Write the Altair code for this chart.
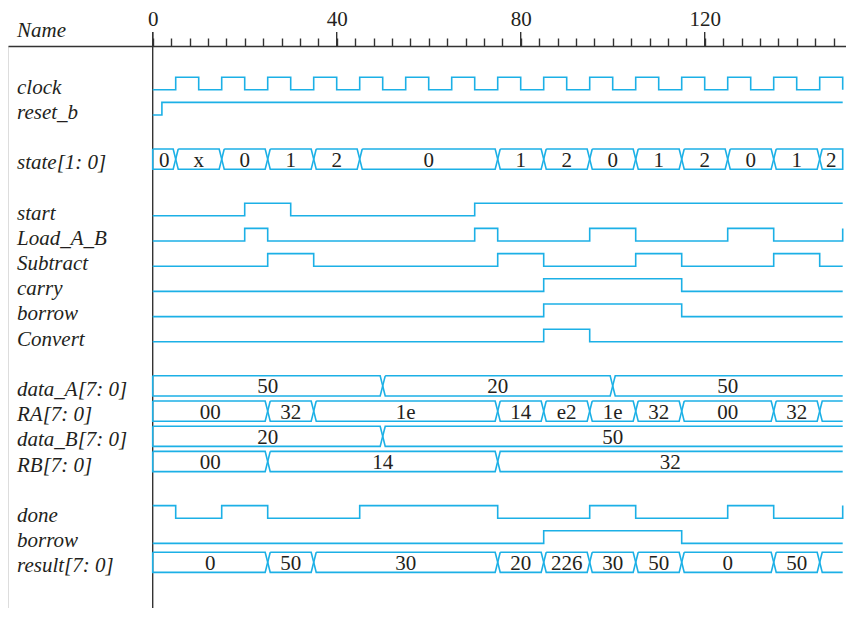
import altair as alt
import pandas as pd

# ---------------- data ----------------
T_END = 150
AXIS_TICKS = [0, 4, 8, 12, 16, 20, 24, 28, 32, 36, 40, 44, 48, 52, 56, 60, 64, 68, 72, 76,
              80, 84, 88, 92, 96, 100, 104, 108, 112, 116, 120, 124, 128, 132, 136, 140, 144, 148]
MAJOR_TICKS = [0, 40, 80, 120]
HEADER = ["Name"]

CLOCK_TOGGLES = [5, 10, 15, 20, 25, 30, 35, 40, 45, 50, 55, 60, 65, 70, 75, 80, 85, 90, 95, 100,
                 105, 110, 115, 120, 125, 130, 135, 140, 145, 150]
RESET_TOGGLES = [2]
START_TOGGLES = [20, 30, 70]
LOAD_TOGGLES = [20, 25, 70, 75, 95, 105, 125, 135, 150]
SUBTRACT_TOGGLES = [25, 35, 75, 85, 105, 115, 135, 145]
CARRY_TOGGLES = [85, 115]
BORROW_TOGGLES = [85, 115]
CONVERT_TOGGLES = [85, 95]
DONE_TOGGLES = [5, 15, 25, 45, 75, 95, 105, 125, 135, 150]
BORROW2_TOGGLES = [85, 115]

STATE_BOUNDS = [0, 5, 15, 25, 35, 45, 75, 85, 95, 105, 115, 125, 135, 145, 150]
STATE_VALUES = ["0", "x", "0", "1", "2", "0", "1", "2", "0", "1", "2", "0", "1", "2"]
DATA_A_BOUNDS = [0, 50, 100, 150]
DATA_A_VALUES = ["50", "20", "50"]
RA_BOUNDS = [0, 25, 35, 75, 85, 95, 105, 115, 135, 145, 150]
RA_VALUES = ["00", "32", "1e", "14", "e2", "1e", "32", "00", "32", ""]
DATA_B_BOUNDS = [0, 50, 150]
DATA_B_VALUES = ["20", "50"]
RB_BOUNDS = [0, 25, 75, 150]
RB_VALUES = ["00", "14", "32"]
RESULT_BOUNDS = [0, 25, 35, 75, 85, 95, 105, 115, 135, 145, 150]
RESULT_VALUES = ["0", "50", "30", "20", "226", "30", "50", "0", "50", ""]

# (key, label, row slot, initial level, toggle times)
DIGITAL = [
    ("clock", "clock", 0, 0, CLOCK_TOGGLES),
    ("reset_b", "reset_b", 1, 0, RESET_TOGGLES),
    ("start", "start", 5, 0, START_TOGGLES),
    ("load", "Load_A_B", 6, 0, LOAD_TOGGLES),
    ("subtract", "Subtract", 7, 0, SUBTRACT_TOGGLES),
    ("carry", "carry", 8, 0, CARRY_TOGGLES),
    ("borrow", "borrow", 9, 0, BORROW_TOGGLES),
    ("convert", "Convert", 10, 0, CONVERT_TOGGLES),
    ("done", "done", 17, 1, DONE_TOGGLES),
    ("borrow2", "borrow", 18, 0, BORROW2_TOGGLES),
]
# (key, label, row slot, boundaries, values)
BUSES = [
    ("state", "state[1: 0]", 3, STATE_BOUNDS, STATE_VALUES),
    ("data_A", "data_A[7: 0]", 12, DATA_A_BOUNDS, DATA_A_VALUES),
    ("RA", "RA[7: 0]", 13, RA_BOUNDS, RA_VALUES),
    ("data_B", "data_B[7: 0]", 14, DATA_B_BOUNDS, DATA_B_VALUES),
    ("RB", "RB[7: 0]", 15, RB_BOUNDS, RB_VALUES),
    ("result", "result[7: 0]", 19, RESULT_BOUNDS, RESULT_VALUES),
]
CLOSED_END = {"state"}

# ---------------- styling ----------------
CYAN = "#1cb0e6"
BLACK = "#333333"
TEXT = "#231f20"
SERIF = "Liberation Serif"
LEVEL = 0.25     # half swing of a digital trace, in rows
BUS_H = 0.4      # half height of a bus, in rows
DELTA = 0.55     # half width of a bus transition, in time units

W, H = 838, 562
PAD_TOP = 38

# ---------------- build tables ----------------
dig_rows = []
for key, label, slot, init, toggles in DIGITAL:
    lvl = init
    pts = [(0, lvl)]
    for t in toggles:
        lvl = 1 - lvl
        pts.append((t, lvl))
    if pts[-1][0] < T_END:
        pts.append((T_END, lvl))
    for i, (t, l) in enumerate(pts):
        dig_rows.append({"sig": key, "i": i, "t": t,
                         "y": slot + (LEVEL if l == 0 else -LEVEL)})
dig_df = pd.DataFrame(dig_rows)

bus_rows = []
val_rows = []
for key, label, slot, bounds, values in BUSES:
    n = len(values)
    for k in range(n):
        a, b = bounds[k], bounds[k + 1]
        da = 0 if a == 0 else DELTA
        top, bot = slot - BUS_H, slot + BUS_H
        if k == n - 1 and key not in CLOSED_END:
            pts = [(b, top), (a + da, top), (a, slot), (a + da, bot), (b, bot)]
        else:
            db = DELTA if b < T_END else 0
            pts = [(a + da, top), (b - db, top), (b, slot), (b - db, bot),
                   (a + da, bot), (a, slot), (a + da, top)]
        seg = f"{key}_{k}"
        for i, (t, y) in enumerate(pts):
            bus_rows.append({"seg": seg, "i": i, "t": t, "y": y})
        val_rows.append({"t": (a + b) / 2, "y": slot, "label": values[k]})
bus_df = pd.DataFrame(bus_rows)
val_df = pd.DataFrame(val_rows)

names = [(label, slot) for _, label, slot, _, _ in DIGITAL] + \
        [(label, slot) for _, label, slot, _, _ in BUSES]
name_df = pd.DataFrame({"name": [n for n, _ in names], "y": [s for _, s in names]})

# ---------------- scales ----------------
px_per_unit = 4.6
x0_px = 144.7
x_dom = [-x0_px / px_per_unit, (W - x0_px) / px_per_unit]
row_px = 25.2
row0_px = 37.5
y_dom = [-row0_px / row_px, (H - row0_px) / row_px]

xaxis = alt.Axis(orient="top", values=AXIS_TICKS, tickSize=8, tickWidth=1.4, tickColor=BLACK,
                 domain=True, domainColor=BLACK, domainWidth=1.4, grid=False, title=None,
                 labelExpr="datum.value % 40 === 0 ? datum.label : ''",
                 labelFont=SERIF, labelFontSize=21, labelColor=TEXT, labelPadding=13,
                 labelBaseline="alphabetic", labelFlush=False, labelOverlap=False)
X = alt.X("t:Q", scale=alt.Scale(domain=x_dom, nice=False, zero=False), axis=xaxis)
Y = alt.Y("y:Q", scale=alt.Scale(domain=y_dom, nice=False, zero=False, reverse=True), axis=None)

digital = alt.Chart(dig_df).mark_line(interpolate="step-after", color=CYAN, strokeWidth=1.6).encode(
    x=X, y=Y, detail="sig:N", order="i:Q")
bus = alt.Chart(bus_df).mark_line(color=CYAN, strokeWidth=1.6).encode(
    x=X, y=Y, detail="seg:N", order="i:Q")
values = alt.Chart(val_df).mark_text(font=SERIF, fontSize=21, color=TEXT, baseline="alphabetic",
                                     dy=7.5).encode(x=X, y=Y, text="label:N")
name_labels = alt.Chart(name_df).mark_text(font=SERIF, fontSize=21, fontStyle="italic", color=TEXT,
                                           align="left", baseline="alphabetic", dy=10).encode(
    x=alt.value(9), y=Y, text="name:N")
header = alt.Chart(pd.DataFrame({"name": HEADER})).mark_text(
    font=SERIF, fontSize=21, fontStyle="italic", color=TEXT, align="left", baseline="alphabetic").encode(
    x=alt.value(9), y=alt.value(-9.5), text="name:N")
major = alt.Chart(pd.DataFrame({"t": MAJOR_TICKS})).mark_rule(color=BLACK, strokeWidth=1.4).encode(
    x=X, y=alt.value(-14), y2=alt.value(0))
zero_line = alt.Chart(pd.DataFrame({"t": [0]})).mark_rule(color=BLACK, strokeWidth=1.4).encode(
    x=X, y=alt.value(-14), y2=alt.value(H))

chart = alt.layer(zero_line, major, digital, bus, values, name_labels, header).properties(
    width=W, height=H,
    autosize=alt.AutoSizeParams(type="none"),
    padding={"left": 0, "top": PAD_TOP, "right": 0, "bottom": 0},
).configure_view(stroke=BLACK, strokeWidth=1.4).configure(background="white")

chart.save("out.html", embed_options={"renderer": "svg", "actions": False})
